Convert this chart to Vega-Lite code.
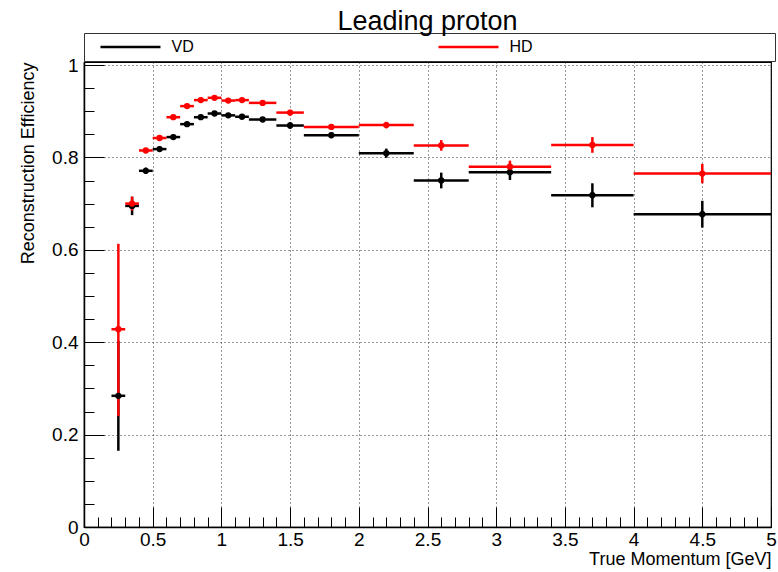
{
  "$schema": "https://vega.github.io/schema/vega-lite/v6.json",
  "width": 687,
  "height": 465,
  "autosize": {"type": "none"},
  "padding": {"left": 84, "top": 62, "right": 7, "bottom": 45},
  "background": "white",
  "config": {
    "font": "Liberation Sans",
    "view": {"stroke": "black", "strokeWidth": 1.2}
  },
  "title": {
    "text": "Leading proton",
    "fontSize": 27,
    "fontWeight": "normal",
    "anchor": "middle",
    "frame": "group",
    "baseline": "alphabetic",
    "offset": 3,
    "dy": 27,
    "color": "black"
  },
  "data": {
    "values": [
      {"det": "VD", "x": 0.25, "xlo": 0.2, "xhi": 0.3, "y": 0.284, "ylo": 0.165, "yhi": 0.403},
      {"det": "VD", "x": 0.35, "xlo": 0.3, "xhi": 0.4, "y": 0.695, "ylo": 0.675, "yhi": 0.715},
      {"det": "VD", "x": 0.45, "xlo": 0.4, "xhi": 0.5, "y": 0.771, "ylo": 0.764, "yhi": 0.778},
      {"det": "VD", "x": 0.55, "xlo": 0.5, "xhi": 0.6, "y": 0.818, "ylo": 0.812, "yhi": 0.824},
      {"det": "VD", "x": 0.65, "xlo": 0.6, "xhi": 0.7, "y": 0.844, "ylo": 0.839, "yhi": 0.849},
      {"det": "VD", "x": 0.75, "xlo": 0.7, "xhi": 0.8, "y": 0.872, "ylo": 0.867, "yhi": 0.877},
      {"det": "VD", "x": 0.85, "xlo": 0.8, "xhi": 0.9, "y": 0.887, "ylo": 0.882, "yhi": 0.892},
      {"det": "VD", "x": 0.95, "xlo": 0.9, "xhi": 1.0, "y": 0.895, "ylo": 0.890, "yhi": 0.900},
      {"det": "VD", "x": 1.05, "xlo": 1.0, "xhi": 1.1, "y": 0.891, "ylo": 0.886, "yhi": 0.896},
      {"det": "VD", "x": 1.15, "xlo": 1.1, "xhi": 1.2, "y": 0.888, "ylo": 0.883, "yhi": 0.893},
      {"det": "VD", "x": 1.3, "xlo": 1.2, "xhi": 1.4, "y": 0.882, "ylo": 0.877, "yhi": 0.887},
      {"det": "VD", "x": 1.5, "xlo": 1.4, "xhi": 1.6, "y": 0.869, "ylo": 0.862, "yhi": 0.876},
      {"det": "VD", "x": 1.8, "xlo": 1.6, "xhi": 2.0, "y": 0.848, "ylo": 0.842, "yhi": 0.854},
      {"det": "VD", "x": 2.2, "xlo": 2.0, "xhi": 2.4, "y": 0.809, "ylo": 0.799, "yhi": 0.819},
      {"det": "VD", "x": 2.6, "xlo": 2.4, "xhi": 2.8, "y": 0.750, "ylo": 0.733, "yhi": 0.767},
      {"det": "VD", "x": 3.1, "xlo": 2.8, "xhi": 3.4, "y": 0.768, "ylo": 0.751, "yhi": 0.785},
      {"det": "VD", "x": 3.7, "xlo": 3.4, "xhi": 4.0, "y": 0.718, "ylo": 0.692, "yhi": 0.744},
      {"det": "VD", "x": 4.5, "xlo": 4.0, "xhi": 5.0, "y": 0.677, "ylo": 0.648, "yhi": 0.706},
      {"det": "HD", "x": 0.25, "xlo": 0.2, "xhi": 0.3, "y": 0.428, "ylo": 0.240, "yhi": 0.613},
      {"det": "HD", "x": 0.35, "xlo": 0.3, "xhi": 0.4, "y": 0.700, "ylo": 0.685, "yhi": 0.715},
      {"det": "HD", "x": 0.45, "xlo": 0.4, "xhi": 0.5, "y": 0.815, "ylo": 0.810, "yhi": 0.820},
      {"det": "HD", "x": 0.55, "xlo": 0.5, "xhi": 0.6, "y": 0.842, "ylo": 0.837, "yhi": 0.847},
      {"det": "HD", "x": 0.65, "xlo": 0.6, "xhi": 0.7, "y": 0.887, "ylo": 0.882, "yhi": 0.892},
      {"det": "HD", "x": 0.75, "xlo": 0.7, "xhi": 0.8, "y": 0.911, "ylo": 0.906, "yhi": 0.916},
      {"det": "HD", "x": 0.85, "xlo": 0.8, "xhi": 0.9, "y": 0.924, "ylo": 0.919, "yhi": 0.929},
      {"det": "HD", "x": 0.95, "xlo": 0.9, "xhi": 1.0, "y": 0.929, "ylo": 0.924, "yhi": 0.934},
      {"det": "HD", "x": 1.05, "xlo": 1.0, "xhi": 1.1, "y": 0.923, "ylo": 0.918, "yhi": 0.928},
      {"det": "HD", "x": 1.15, "xlo": 1.1, "xhi": 1.2, "y": 0.924, "ylo": 0.919, "yhi": 0.929},
      {"det": "HD", "x": 1.3, "xlo": 1.2, "xhi": 1.4, "y": 0.918, "ylo": 0.913, "yhi": 0.923},
      {"det": "HD", "x": 1.5, "xlo": 1.4, "xhi": 1.6, "y": 0.897, "ylo": 0.891, "yhi": 0.903},
      {"det": "HD", "x": 1.8, "xlo": 1.6, "xhi": 2.0, "y": 0.866, "ylo": 0.860, "yhi": 0.872},
      {"det": "HD", "x": 2.2, "xlo": 2.0, "xhi": 2.4, "y": 0.870, "ylo": 0.863, "yhi": 0.877},
      {"det": "HD", "x": 2.6, "xlo": 2.4, "xhi": 2.8, "y": 0.826, "ylo": 0.8145, "yhi": 0.8375},
      {"det": "HD", "x": 3.1, "xlo": 2.8, "xhi": 3.4, "y": 0.780, "ylo": 0.767, "yhi": 0.793},
      {"det": "HD", "x": 3.7, "xlo": 3.4, "xhi": 4.0, "y": 0.827, "ylo": 0.810, "yhi": 0.844},
      {"det": "HD", "x": 4.5, "xlo": 4.0, "xhi": 5.0, "y": 0.765, "ylo": 0.744, "yhi": 0.786}
    ]
  },
  "resolve": {"axis": {"x": "independent", "y": "independent"}},
  "layer": [
    {
      "mark": {"type": "rule", "strokeWidth": 2.5},
      "encoding": {
        "x": {
          "field": "xlo", "type": "quantitative",
          "scale": {"domain": [0, 5], "nice": false, "zero": false},
          "axis": {
            "orient": "bottom",
            "values": [0, 0.5, 1, 1.5, 2, 2.5, 3, 3.5, 4, 4.5, 5],
            "format": ".1~f",
            "title": "True Momentum [GeV]",
            "titleAnchor": "end",
            "titleFontSize": 18,
            "titleFontWeight": "normal",
            "titleColor": "black",
            "titlePadding": 1,
            "labelFontSize": 19,
            "labelColor": "black",
            "labelPadding": 23,
            "labelFlush": false,
            "labelOverlap": false,
            "tickSize": -20,
            "tickColor": "black",
            "tickWidth": 1,
            "domain": true,
            "domainColor": "black",
            "domainWidth": 1.5,
            "grid": true,
            "gridColor": "black",
            "gridDash": [1, 3],
            "gridWidth": 1,
            "gridOpacity": 0.8
          }
        },
        "x2": {"field": "xhi"},
        "y": {
          "field": "y", "type": "quantitative",
          "scale": {"domain": [0, 1.0065], "nice": false, "zero": false},
          "axis": {
            "orient": "left",
            "values": [0, 0.2, 0.4, 0.6, 0.8, 1],
            "format": ".1~f",
            "title": "Reconstruction Efficiency",
            "titleAnchor": "end",
            "titleFontSize": 18,
            "titleFontWeight": "normal",
            "titleColor": "black",
            "titlePadding": 14,
            "labelFontSize": 19,
            "labelColor": "black",
            "labelPadding": 26,
            "labelFlush": false,
            "labelOverlap": false,
            "tickSize": -20,
            "tickColor": "black",
            "tickWidth": 1,
            "domain": true,
            "domainColor": "black",
            "domainWidth": 1.5,
            "grid": true,
            "gridColor": "black",
            "gridDash": [1, 3],
            "gridWidth": 1,
            "gridOpacity": 0.8
          }
        },
        "color": {
          "field": "det", "type": "nominal",
          "scale": {"domain": ["VD", "HD"], "range": ["#000000", "#ff0000"]},
          "legend": {
            "orient": "none",
            "legendX": 0,
            "legendY": -29,
            "direction": "horizontal",
            "title": null,
            "symbolType": "M-6,0H6",
            "symbolSize": 100,
            "symbolStrokeWidth": 2.5,
            "symbolOffset": 32.5,
            "labelFontSize": 16,
            "labelColor": "black",
            "labelOffset": 33,
            "columnPadding": 234,
            "padding": 6,
            "strokeColor": "#333333",
            "fillColor": "white",
            "labelLimit": 0,
            "labelExpr": "datum.label == 'HD' ? 'HD                                                     \u200b' : datum.label"
          }
        }
      }
    },
    {
      "mark": {"type": "rule", "strokeWidth": 2.5},
      "encoding": {
        "x": {
          "field": "x", "type": "quantitative",
          "axis": {
            "orient": "bottom",
            "values": [0.1, 0.2, 0.3, 0.4, 0.6, 0.7, 0.8, 0.9, 1.1, 1.2, 1.3, 1.4, 1.6, 1.7, 1.8, 1.9, 2.1, 2.2, 2.3, 2.4, 2.6, 2.7, 2.8, 2.9, 3.1, 3.2, 3.3, 3.4, 3.6, 3.7, 3.8, 3.9, 4.1, 4.2, 4.3, 4.4, 4.6, 4.7, 4.8, 4.9],
            "labels": false,
            "title": null,
            "domain": false,
            "grid": false,
            "tickSize": -10,
            "tickColor": "black",
            "tickWidth": 1
          }
        },
        "y": {
          "field": "ylo", "type": "quantitative",
          "axis": {
            "orient": "left",
            "values": [0.05, 0.1, 0.15, 0.25, 0.3, 0.35, 0.45, 0.5, 0.55, 0.65, 0.7, 0.75, 0.85, 0.9, 0.95],
            "labels": false,
            "title": null,
            "domain": false,
            "grid": false,
            "tickSize": -10,
            "tickColor": "black",
            "tickWidth": 1
          }
        },
        "y2": {"field": "yhi"},
        "color": {"field": "det", "type": "nominal"}
      }
    },
    {
      "mark": {"type": "point", "filled": true, "shape": "circle", "size": 40, "opacity": 1},
      "encoding": {
        "x": {"field": "x", "type": "quantitative", "axis": null},
        "y": {"field": "y", "type": "quantitative", "axis": null},
        "color": {"field": "det", "type": "nominal"}
      }
    }
  ]
}
